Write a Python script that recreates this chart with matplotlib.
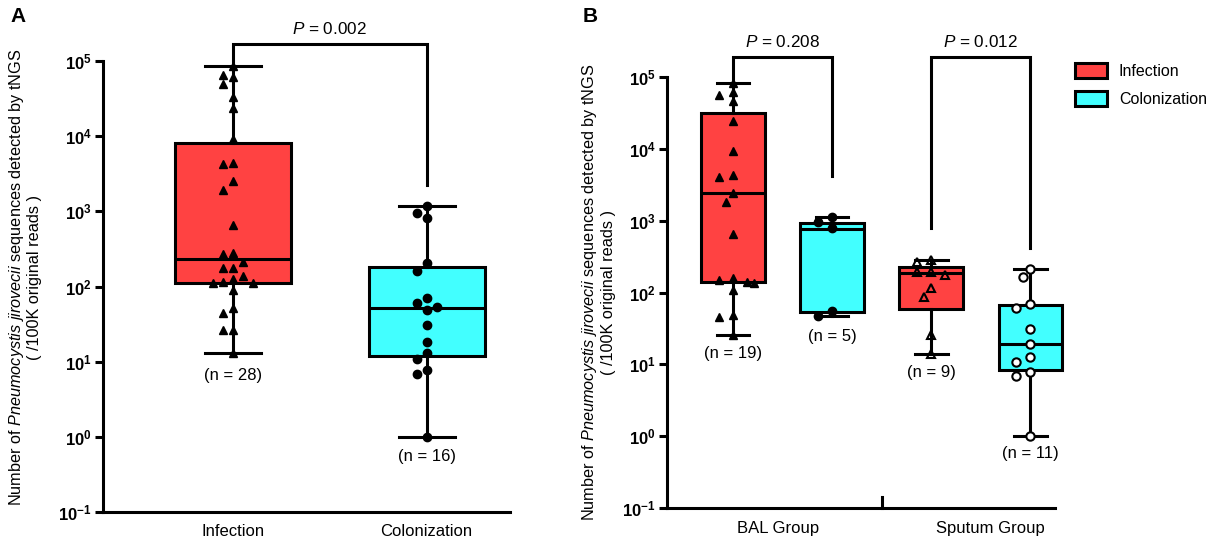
import numpy as np
import matplotlib
matplotlib.use('Agg')
import matplotlib.pyplot as plt
from matplotlib.patches import Patch
from matplotlib.ticker import FixedLocator, FuncFormatter, NullLocator

# values (sequences / 100K reads)
a_inf = [85000, 65000, 62000, 49000, 33000, 24000, 9100, 4400, 4200, 2500,
         1900, 650, 275, 270, 210, 175, 175, 140, 125, 115, 112, 110, 90,
         52, 45, 26, 26, 13]
a_col = [1170, 940, 810, 205, 163, 71, 61, 54, 48, 31, 18, 13, 10.7, 7.8, 6.9, 1]

bal_inf = [83000, 62000, 56000, 46000, 24500, 9300, 4300, 4100, 2400, 1800,
           650, 161, 150, 138, 135, 107, 49, 46, 26]
bal_col = [1120, 950, 790, 56, 47]
spu_inf = [280, 270, 190, 190, 175, 115, 87, 26, 14]
spu_col = [210, 162, 69, 60, 31, 19, 12.6, 10.7, 7.8, 6.9, 1]

# box quartiles as drawn (q1, median, q3)
a_quart = [(110, 235, 8100), (12, 52, 180)]
b_quart = [(138, 2400, 31600), (54, 760, 930), (59, 185, 225), (8.3, 19, 66)]

y_ticks = [1e-1, 1e0, 1e1, 1e2, 1e3, 1e4, 1e5]
a_names = ['Infection', 'Colonization']
b_groups = ['BAL Group', 'Sputum Group']
a_pvals = ['0.002']
b_pvals = ['0.208', '0.012']

RED = '#FF4242'
CYAN = '#42FFFF'
LW = 2.2

plt.rcParams['font.family'] = ['Liberation Sans', 'DejaVu Sans']
plt.rcParams['mathtext.fontset'] = 'custom'
plt.rcParams['mathtext.rm'] = 'Liberation Sans'
plt.rcParams['mathtext.it'] = 'Liberation Sans:italic'
plt.rcParams['mathtext.bf'] = 'Liberation Sans:bold'

fig = plt.figure(figsize=(12.17, 5.41), dpi=100)
axA = fig.add_axes([103 / 1217, 29 / 541, 407 / 1217, 451 / 541])
axB = fig.add_axes([667 / 1217, 33 / 541, 388 / 1217, 431 / 541])

ylab = (r'Number of $\mathit{Pneumocystis\ jirovecii}$ sequences detected by tNGS'
        '\n( /100K original reads )')


def style_axis(ax, xlim, labx, laby):
    ax.set_yscale('log')
    ax.set_ylim(0.1, 1e5)
    ax.set_xlim(*xlim)
    for s in ['top', 'right']:
        ax.spines[s].set_visible(False)
    for s in ['left', 'bottom']:
        ax.spines[s].set_linewidth(LW)
    ax.yaxis.set_major_locator(FixedLocator(y_ticks))
    ax.yaxis.set_minor_locator(NullLocator())
    ax.yaxis.set_major_formatter(
        FuncFormatter(lambda v, p: r'$\mathbf{10^{%d}}$' % round(np.log10(v))))
    ax.tick_params(axis='y', length=6, width=LW, labelsize=12, pad=2)
    ax.tick_params(axis='x', length=0, labelsize=12, pad=9)
    ax.set_ylabel(ylab, fontsize=11.7, linespacing=1.1)
    ax.yaxis.label.set_va('center')
    ax.yaxis.set_label_coords(labx, laby)


style_axis(axA, (-0.67, 1.43), -0.192, 0.52)
style_axis(axB, (-0.667, 3.25), -0.178, 0.5)


def draw_boxes(ax, datas, quarts, pos, colors, width, capw):
    stats = []
    for d, (q1, med, q3) in zip(datas, quarts):
        stats.append(dict(q1=q1, med=med, q3=q3, whislo=min(d), whishi=max(d), fliers=[]))
    bp = ax.bxp(stats, positions=pos, widths=width, capwidths=capw,
                patch_artist=True, showfliers=False, manage_ticks=False,
                boxprops=dict(linewidth=LW, edgecolor='black'),
                medianprops=dict(color='black', linewidth=LW),
                whiskerprops=dict(linewidth=LW, color='black'),
                capprops=dict(linewidth=LW, color='black'))
    for b, c in zip(bp['boxes'], colors):
        b.set_facecolor(c)
    for key in ['boxes', 'medians', 'whiskers', 'caps']:
        for art in bp[key]:
            art.set_clip_on(False)


def swarm_x(ax, x0, vals, step=10, gap=9):
    vals = np.asarray(vals, float)
    pts = ax.transData.transform(np.column_stack([np.full(len(vals), x0), vals]))
    x0px = pts[0, 0]
    placed = []
    out = np.zeros(len(vals))
    inv = ax.transData.inverted()
    for i in np.argsort(-vals):
        py = pts[i, 1]
        for k in [0, -1, 1, -2, 2, -3, 3]:
            cx = x0px + k * step
            if all((cx - qx) ** 2 + (py - qy) ** 2 >= gap ** 2 for qx, qy in placed):
                break
        placed.append((cx, py))
        out[i] = inv.transform((cx, py))[0]
    return out


def draw_points(ax, x0, vals, marker, filled, step):
    xs = swarm_x(ax, x0, vals, step=step)
    if filled:
        ax.plot(xs, vals, ls='none', marker=marker, ms=6, mfc='black', mec='black',
                zorder=5, clip_on=False)
    else:
        fc = 'none' if marker == '^' else 'white'
        ax.plot(xs, vals, ls='none', marker=marker, ms=6, mfc=fc, mec='black', mew=1.5,
                zorder=5, clip_on=False)


def bracket(ax, x0, x1, y0, y1, top, ptxt):
    ax.plot([x0, x0, x1, x1], [y0, top, top, y1], color='black', lw=LW,
            clip_on=False, solid_joinstyle='miter')
    ax.annotate(r'$\mathit{P}$ = ' + ptxt, xy=((x0 + x1) / 2, top), xytext=(0, 5),
                textcoords='offset points', ha='center', va='bottom', fontsize=12.3,
                annotation_clip=False)


def n_label(ax, x0, vals, off):
    ax.annotate('(n = %d)' % len(vals), xy=(x0, min(vals)), xytext=(0, -off),
                textcoords='offset points', ha='center', va='top', fontsize=12,
                annotation_clip=False)


# ---- panel A
fig.canvas.draw()
draw_boxes(axA, [a_inf, a_col], a_quart, [0, 1], [RED, CYAN], 0.6, 0.29)
draw_points(axA, 0, a_inf, '^', True, 10)
draw_points(axA, 1, a_col, 'o', True, 10)
axA.set_xticks([0, 1])
axA.set_xticklabels(a_names)
bracket(axA, 0, 1, max(a_inf), 2240, 1.7e5, a_pvals[0])
n_label(axA, 0, a_inf, 11)
n_label(axA, 1, a_col, 9)

# ---- panel B
draw_boxes(axB, [bal_inf, bal_col, spu_inf, spu_col], b_quart, [0, 1, 2, 3],
           [RED, CYAN, RED, CYAN], 0.64, 0.33)
draw_points(axB, 0, bal_inf, '^', True, 7)
draw_points(axB, 1, bal_col, 'o', True, 7)
draw_points(axB, 2, spu_inf, '^', False, 7)
draw_points(axB, 3, spu_col, 'o', False, 7)
axB.set_xticks([0.45, 2.6])
axB.set_xticklabels(b_groups)
axB.plot([1.5, 1.5], [0, 0.025], color='black', lw=LW,
         transform=axB.get_xaxis_transform(), clip_on=False)
bracket(axB, 0, 1, max(bal_inf), 4200, 1.9e5, b_pvals[0])
bracket(axB, 2, 3, 800, 415, 1.9e5, b_pvals[1])
n_label(axB, 0, bal_inf, 8)
n_label(axB, 1, bal_col, 9)
n_label(axB, 2, spu_inf, 8)
n_label(axB, 3, spu_col, 7)

fig.text(18 / 1217, 1 - 17 / 541, 'A', fontsize=15, fontweight='bold', ha='center', va='center')
fig.text(590 / 1217, 1 - 17 / 541, 'B', fontsize=15, fontweight='bold', ha='center', va='center')

handles = [Patch(facecolor=RED, edgecolor='black', linewidth=LW, label='Infection'),
           Patch(facecolor=CYAN, edgecolor='black', linewidth=LW, label='Colonization')]
fig.legend(handles=handles, loc='upper left', bbox_to_anchor=(1075 / 1217, 1 - 63 / 541),
           frameon=False, fontsize=11.5, handlelength=2.0, handleheight=1.1,
           labelspacing=0.75, handletextpad=0.75, borderaxespad=0, borderpad=0)

fig.savefig('out.png', dpi=100)
